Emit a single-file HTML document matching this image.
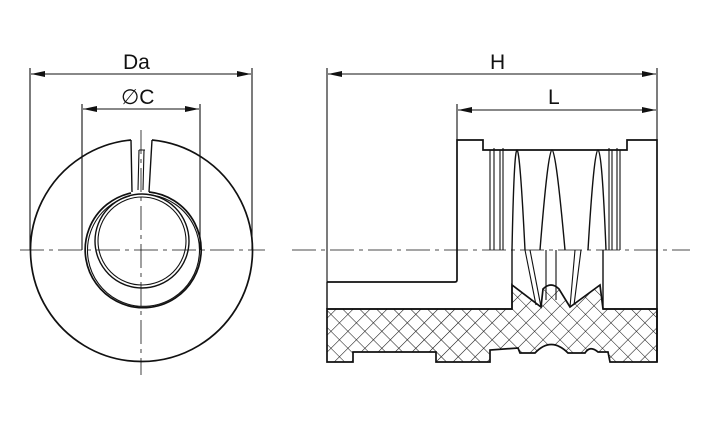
<!DOCTYPE html>
<html><head><style>body{margin:0;background:#fff}svg{display:block}text{font-family:"Liberation Sans",sans-serif;font-size:21px;fill:#111}</style></head><body>
<svg width="709" height="425" viewBox="0 0 709 425" xmlns="http://www.w3.org/2000/svg">
<defs>
<pattern id="h" width="12" height="12" patternUnits="userSpaceOnUse" patternTransform="rotate(45)">
<path d="M0 0V12M0 0H12" stroke="#111" stroke-width="1.1"/>
</pattern>
<marker id="a" markerWidth="14" markerHeight="6" refX="14" refY="3" orient="auto-start-reverse" markerUnits="userSpaceOnUse"><path d="M0 0L14 3L0 6z" fill="#111"/></marker>
</defs>
<g stroke="#111" fill="none" stroke-width="1.1">
<line x1="30" y1="68" x2="30" y2="250"/><line x1="252" y1="68" x2="252" y2="250"/>
<line x1="31" y1="74" x2="251" y2="74" marker-start="url(#a)" marker-end="url(#a)"/>
<line x1="82" y1="104" x2="82" y2="250"/><line x1="200" y1="104" x2="200" y2="250"/>
<line x1="83" y1="109" x2="199" y2="109" marker-start="url(#a)" marker-end="url(#a)"/>
<path d="M131 140 A111 111 0 1 0 152 140" stroke-width="1.7"/>
<path d="M131 140 L132 192 M152 140 L149 192" stroke-width="1.4"/>
<path d="M139 150 L138 190 M144 150 L143 190 M139 150 H145" />
<path d="M131 193 A58 58 0 1 0 149 192" stroke-width="1.7"/>
<path d="M130 196 A56 56 0 1 0 152 195"/>
<circle cx="142" cy="241" r="47" stroke-width="1.4"/>
<circle cx="142" cy="241" r="44"/>
<g stroke-dasharray="24,5,4,5" stroke-width="0.8">
<line x1="20" y1="250" x2="265" y2="250"/><line x1="141" y1="130" x2="141" y2="375"/>
<line x1="292" y1="250" x2="690" y2="250"/>
</g>
<line x1="327" y1="68" x2="327" y2="282"/><line x1="657" y1="68" x2="657" y2="140"/>
<line x1="328" y1="74" x2="656" y2="74" marker-start="url(#a)" marker-end="url(#a)"/>
<line x1="457" y1="104" x2="457" y2="140"/>
<line x1="458" y1="110" x2="656" y2="110" marker-start="url(#a)" marker-end="url(#a)"/>
<path d="M327 282 H455 Q457 282 457 280 V140 H483 V150 H627 V140 H657 V362" stroke-width="1.7"/>
<path d="M327 282 V309 M327 309 H512 V250 M603 309 V250 M603 309 H657" stroke-width="1.4"/>
<path d="M327 309 H512 L512 285 L541 307 L543 289 Q551 281 559 289 L570 307 L600 285 L603 309 H657 V362 H610 L608 352 L598 352 Q590 345 585 353 L568 353 Q551 336 535 353 L520 353 L518 348 L490 350 V362 H436 V352 H353 V362 H327 Z" fill="url(#h)" stroke-width="1.7"/>
<path d="M490 150 V250 M494 148 V250 M500 150 V250 M503 148 V250 M620 150 V250 M617 148 V250 M612 150 V250 M609 148 V250"/>
<path d="M512 250 Q514 150 517 150 Q520 150 525 250 M540 250 Q548 150 552 150 Q556 150 565 250 M588 250 Q594 150 598 150 Q602 150 606 250" stroke-width="1.4"/>
<path d="M530 250 L541 307 M546 250 V300 M556 250 V300 M575 250 L570 307 M525 250 L536 305 M581 250 L574 305"/>
</g>
<text x="123" y="69">Da</text>
<text x="121" y="104">∅C</text>
<text x="490" y="69">H</text>
<text x="548" y="104">L</text>
</svg>
</body></html>
